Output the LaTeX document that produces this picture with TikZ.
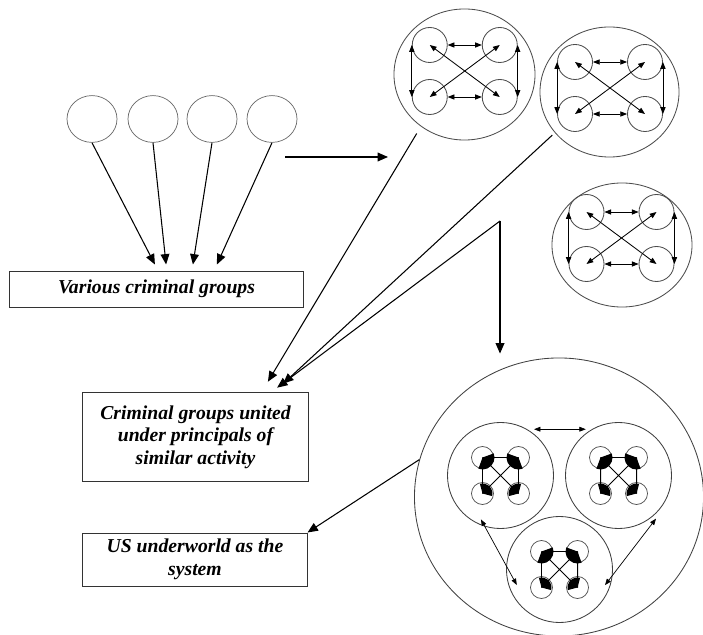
\documentclass[tikz,border=0pt]{standalone}
\usepackage{fontspec}
\setmainfont{Liberation Serif}
\usepackage{tikz}
\usetikzlibrary{
  arrows.meta,
  calc,
  positioning,
  shapes.geometric
}
\tikzset{
  groupOval/.style={
    ellipse,
    draw=black!60,
    line width=0.5pt,
    minimum width=1.25cm,
    minimum height=1.17cm,
    inner sep=0pt
  },
  labelBox/.style={
    rectangle,
    draw=black!80,
    line width=0.7pt,
    align=center,
    inner sep=2pt,
    font=\fontsize{14}{16}\selectfont\bfseries\itshape
  },
  clusterOval/.style={
    ellipse,
    draw=black!70,
    line width=0.6pt,
    minimum width=3.5cm,
    minimum height=3.25cm,
    inner sep=0pt
  },
  cell/.style={
    circle,
    draw=black!70,
    line width=0.6pt,
    minimum size=0.875cm,
    inner sep=0pt
  },
  miniCell/.style={
    circle,
    draw=black!70,
    line width=0.5pt,
    minimum size=0.55cm,
    inner sep=0pt
  },
  famCircle/.style={
    circle,
    draw=black!75,
    line width=0.6pt,
    minimum size=2.65cm,
    inner sep=0pt
  },
  mainArrow/.style={
    -{Triangle[length=2.6mm,width=2.2mm]},
    line width=0.75pt
  },
  linkArrow/.style={
    {Triangle[length=1.7mm,width=1.3mm]}-{Triangle[length=1.7mm,width=1.3mm]},
    line width=0.6pt
  },
  famArrow/.style={
    {Triangle[length=1.6mm,width=1.2mm]}-{Triangle[length=1.6mm,width=1.2mm]},
    line width=0.5pt
  }
}
% four linked groups inside one union
\newcommand{\fourcells}[3]{%
  \node[cell] (#1tl) at ({#2-35},{#3+26}) {};
  \node[cell] (#1tr) at ({#2+35},{#3+26}) {};
  \node[cell] (#1bl) at ({#2-35},{#3-26}) {};
  \node[cell] (#1br) at ({#2+35},{#3-26}) {};
  \draw[linkArrow] (#1tl) -- (#1tr);
  \draw[linkArrow] (#1bl) -- (#1br);
  \draw[linkArrow] (#1tl.west) -- (#1bl.west);
  \draw[linkArrow] (#1tr.east) -- (#1br.east);
  \draw[linkArrow] (#1tl.center) -- (#1br.center);
  \draw[linkArrow] (#1bl.center) -- (#1tr.center);
}
% the same union, drawn small
\newcommand{\minicells}[3]{%
  \node[miniCell] (#1tl) at ({#2-18},{#3+18}) {};
  \node[miniCell] (#1tr) at ({#2+18},{#3+18}) {};
  \node[miniCell] (#1bl) at ({#2-18},{#3-18}) {};
  \node[miniCell] (#1br) at ({#2+18},{#3-18}) {};
  \draw[line width=0.7pt] (#1tl.center) -- (#1tr.center)
    (#1tl.center) -- (#1bl.center) (#1tr.center) -- (#1br.center)
    (#1tl.center) -- (#1br.center) (#1tr.center) -- (#1bl.center);
  \fill (#1tl.center) -- ++(-110:0.3cm) arc[start angle=-110, end angle=20, radius=0.3cm] -- cycle;
  \fill (#1tr.center) -- ++(160:0.3cm) arc[start angle=160, end angle=290, radius=0.3cm] -- cycle;
  \fill (#1bl.center) -- ++(-15:0.25cm) arc[start angle=-15, end angle=105, radius=0.25cm] -- cycle;
  \fill (#1br.center) -- ++(75:0.25cm) arc[start angle=75, end angle=195, radius=0.25cm] -- cycle;
}

\begin{document}
\begin{tikzpicture}[x=0.025cm, y=0.025cm]
  \useasboundingbox (0,0) rectangle (703,-635);

  % separate groups
  \node[groupOval] (g1) at (92,-119) {};
  \node[groupOval] (g2) at (153,-119) {};
  \node[groupOval] (g3) at (212,-119) {};
  \node[groupOval] (g4) at (272,-119) {};

  \node[labelBox, minimum width=7.325cm, minimum height=0.9cm]
    (various) at (156.5,-289) {Various criminal groups};

  \draw[mainArrow] (g1.south) -- ([xshift=-0.04cm,yshift=0.15cm]various.north);
  \draw[mainArrow] (g2.south) -- ([xshift=0.24cm,yshift=0.15cm]various.north);
  \draw[mainArrow] (g3.south) -- ([xshift=0.91cm,yshift=0.15cm]various.north);
  \draw[mainArrow] (g4.south) -- ([xshift=1.51cm,yshift=0.15cm]various.north);

  \coordinate (flowStart) at (285,-157);
  \coordinate (flowEnd) at (388,-157);
  \draw[mainArrow] (flowStart) -- (flowEnd);

  % unions of groups
  \node[clusterOval, minimum width=3.525cm, minimum height=3.275cm]
    (clA) at (464.5,-74.5) {};
  \fourcells{a}{464.75}{-71}
  \node[clusterOval, minimum width=3.475cm]
    (clB) at (609.5,-92) {};
  \fourcells{b}{610}{-88}
  \node[clusterOval, minimum height=3.1cm]
    (clC) at (622,-245) {};
  \fourcells{c}{621.5}{-238}

  \node[labelBox, minimum width=5.625cm, minimum height=2.2cm]
    (united) at (195.5,-437)
    {Criminal groups united\\under principals of\\similar activity};

  \coordinate (split) at (500,-221);
  \draw[mainArrow] ($(clA.center)!1.12!(clA.231)$)
    -- ([xshift=1.81cm,yshift=0.27cm]united.north);
  \draw[mainArrow] ($(clB.center)!1.05!(clB.217)$)
    -- ([xshift=2.19cm,yshift=0.22cm]united.north);
  \draw[mainArrow] (split)
    -- ([xshift=2.04cm,yshift=0.12cm]united.north);

  % the whole system
  \node[ellipse, draw=black!75, line width=0.6pt, minimum width=7.225cm,
    minimum height=6.95cm, inner sep=0pt] (world) at (559,-497) {};
  \node[famCircle] (fam1) at (500.5,-475.5) {};
  \node[famCircle] (fam2) at (618.5,-475.5) {};
  \node[famCircle] (fam3) at (559.5,-569.5) {};
  \minicells{p}{500.5}{-475.5}
  \minicells{q}{618.5}{-475.5}
  \minicells{r}{559.5}{-569.5}

  \draw[famArrow, shorten <=1.7mm, shorten >=1.5mm] (fam1.60) -- (fam2.120);
  \draw[famArrow] ($(fam1.center)!0.9!(fam1.246)$)
    -- ($(fam3.center)!0.85!(fam3.200)$);
  \draw[famArrow] ($(fam2.center)!1.07!(fam2.311)$)
    -- ($(fam3.center)!0.9!(fam3.341)$);

  \draw[mainArrow, shorten >=1mm] (split) -- (split |- world.north);

  \node[labelBox, minimum width=5.6cm, minimum height=1.325cm]
    (system) at (195,-559.5) {US underworld as the\\system};

  \draw[mainArrow] (world.165) -- (system.north east);
\end{tikzpicture}
\end{document}
